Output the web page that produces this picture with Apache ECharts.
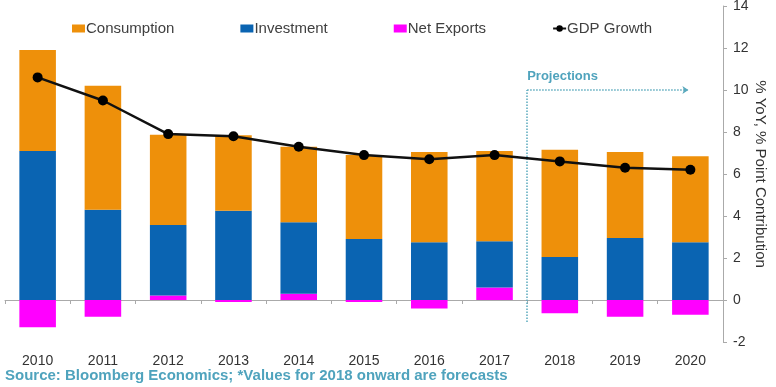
<!DOCTYPE html>
<html><head><meta charset="utf-8">
<script src="https://cdn.jsdelivr.net/npm/echarts@6/dist/echarts.min.js"></script>
<style>html,body{margin:0;padding:0;background:#fff}#c{width:776px;height:387px}</style>
</head><body><div id="c"></div>
<script>
var categories = ['2010','2011','2012','2013','2014','2015','2016','2017','2018','2019','2020'];
var consumption = [4.8, 5.9, 4.3, 3.6, 3.6, 4.0, 4.3, 4.3, 5.1, 4.1, 4.1];
var investment = [7.1, 4.3, 3.35, 4.25, 3.4, 2.9, 2.75, 2.2, 2.05, 2.95, 2.75];
var netExports = [-1.3, -0.8, 0.22, -0.1, 0.3, -0.1, -0.4, 0.6, -0.63, -0.8, -0.7];
var gdpGrowth = [10.6, 9.5, 7.9, 7.8, 7.3, 6.9, 6.7, 6.9, 6.6, 6.3, 6.2];
var yTicks = {min: -2, max: 14, interval: 2};
var projectionStart = 7.5, projectionEnd = 9.97, projectionLevel = 10, projectionBottom = -1.05;

var chart = echarts.init(document.getElementById('c'), null, {renderer: 'canvas'});
var font = 'Arial, "Liberation Sans", sans-serif';
var option = {
  animation: false,
  textStyle: {fontFamily: font},
  legend: {
    top: 16, left: 67, itemGap: 66, itemWidth: 13, itemHeight: 8,
    textStyle: {fontSize: 15, color: '#404040', fontFamily: font, padding: [0, 0, 0, -4]},
    data: [
      {name: 'Consumption', icon: 'rect'},
      {name: 'Investment', icon: 'rect'},
      {name: 'Net Exports', icon: 'rect'},
      {name: 'GDP Growth'}
    ]
  },
  grid: {left: 5, right: 53, top: 6, bottom: 45, outerBoundsMode: 'none', containLabel: false},
  xAxis: [
    {type: 'category', data: categories, axisLine: {onZero: true, lineStyle: {color: '#aaa'}},
     axisTick: {show: true, length: 4, lineStyle: {color: '#aaa'}}, axisLabel: {show: false}},
    {type: 'category', data: categories, position: 'bottom', axisLine: {show: false, onZero: false},
     axisTick: {show: false}, axisLabel: {fontSize: 14, color: '#333', margin: 12, fontFamily: font}},
    {type: 'value', min: -0.5, max: 10.5, show: false}
  ],
  yAxis: {
    type: 'value', position: 'right', min: yTicks.min, max: yTicks.max, interval: yTicks.interval,
    splitLine: {show: false},
    axisLine: {show: true, onZero: false, lineStyle: {color: '#aaa'}},
    axisTick: {show: true, length: 4, lineStyle: {color: '#aaa'}},
    axisLabel: {fontSize: 14, color: '#333', margin: 10, fontFamily: font},
    name: '% YoY, % Point Contribution', nameLocation: 'middle', nameRotate: -90, nameGap: 30,
    nameMoveOverlap: false,
    nameTextStyle: {fontSize: 15, color: '#333', fontFamily: font}
  },
  series: [
    {name: 'Net Exports', type: 'bar', stack: 'g', data: netExports, barWidth: '56%', itemStyle: {color: '#FF00FF'}},
    {name: 'Investment', type: 'bar', stack: 'g', data: investment, itemStyle: {color: '#0A64B2'}},
    {name: 'Consumption', type: 'bar', stack: 'g', data: consumption, itemStyle: {color: '#EE900A'}},
    {name: 'GDP Growth', type: 'line', data: gdpGrowth, symbol: 'circle', symbolSize: 10,
     lineStyle: {color: '#111', width: 2.5}, itemStyle: {color: '#000'}, z: 5},
    {name: 'proj', type: 'line', xAxisIndex: 2, data: [], silent: true,
     markLine: {
       silent: true, symbol: 'none',
       lineStyle: {color: '#5aa9bd', type: 'dotted', width: 1.5},
       label: {show: false},
       data: [
         [{coord: [projectionStart, projectionBottom], symbol: 'none'}, {coord: [projectionStart, projectionLevel], symbol: 'none'}],
         [{coord: [projectionStart, projectionLevel], symbol: 'none',
           label: {show: true, position: 'insideStartTop', formatter: 'Projections', distance: [0, 7],
             fontSize: 13, fontWeight: 'bold', color: '#4fa3bd', fontFamily: font}},
          {coord: [projectionEnd, projectionLevel], symbol: 'arrow', symbolSize: 6}]
       ]
     }
    }
  ],
  graphic: [{type: 'text', left: 5, top: 368, style: {text: 'Source: Bloomberg Economics; *Values for 2018 onward are forecasts',
    fill: '#4fa3bd', font: 'bold 15px Arial, "Liberation Sans", sans-serif'}}]
};
chart.setOption(option);
</script></body></html>
